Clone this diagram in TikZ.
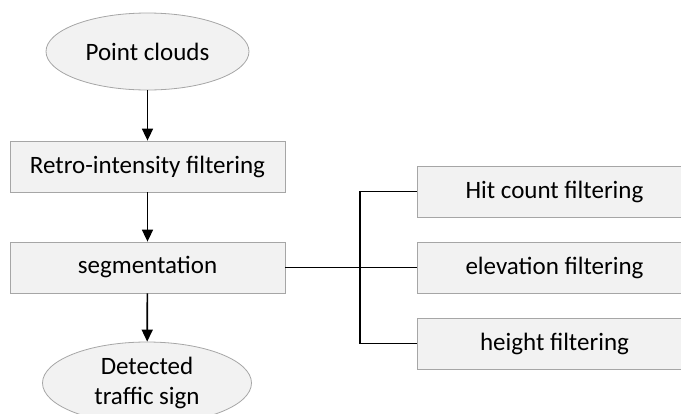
\documentclass[tikz,border=0pt]{standalone}
\usepackage{fontspec}
\setmainfont{Carlito}
\usetikzlibrary{arrows.meta,shapes.geometric}
\definecolor{boxfill}{HTML}{F2F2F2}
\definecolor{boxline}{HTML}{A6A6A6}

\begin{document}
\begin{tikzpicture}[x=1pt,y=-1pt,
    font=\fontsize{25}{30}\selectfont,
    term/.style={ellipse, draw=boxline, fill=boxfill, line width=0.8pt, inner sep=0pt, align=center},
    proc/.style={rectangle, draw=boxline, fill=boxfill, line width=0.8pt, minimum width=275pt, minimum height=51pt, inner sep=0pt},
    link/.style={line width=1.7pt},
    flow/.style={link, -{Triangle[width=11pt,length=12pt]}}]
    \useasboundingbox (0,0) rectangle (681,413);
    \node[term, minimum width=203pt, minimum height=77pt] (pc) at (147.5,51.5) {Point clouds};
    \node[proc] (retro) at (147.5,166.5) {Retro-intensity filtering};
    \node[proc] (seg) at (147.5,267.5) {segmentation};
    \node[term, minimum width=209pt, minimum height=82pt] (det) at (147,383) {Detected\\traffic sign};

    \node[proc] (hit) at (554.5,191.5) {Hit count filtering};
    \node[proc] (elev) at (554.5,267.5) {elevation filtering};
    \node[proc] (hgt) at (554.5,343.5) {height filtering};

    \draw[flow] (pc) -- (retro); \draw[flow] (retro) -- (seg); \draw[flow] (seg) -- (det);

    \coordinate (J) at (360,267.5);
    \draw[link] (seg.east) -- (elev.west);
    \draw[link] (hit.west) -| (J) |- (hgt.west);
\end{tikzpicture}
\end{document}
